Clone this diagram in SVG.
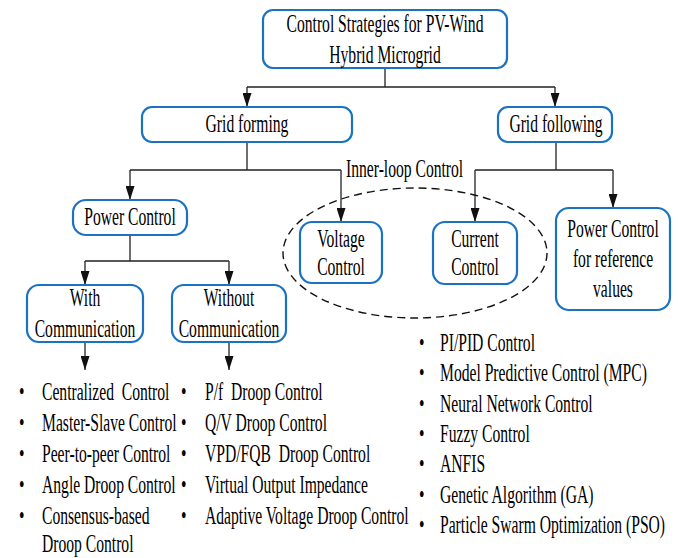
<svg xmlns="http://www.w3.org/2000/svg" width="678" height="558" viewBox="0 0 678 558">
<style>
.box{fill:#fff;stroke:#1a72c0;stroke-width:2.2}
.c{fill:none;stroke:#222;stroke-width:1.3}
.a{fill:none;stroke:#222;stroke-width:1.3;marker-end:url(#ah)}
.t text{font-size:25px;fill:#000;white-space:pre}
.m{text-anchor:middle}
</style>
<defs>
<marker id="ah" markerUnits="userSpaceOnUse" markerWidth="14" markerHeight="9" refX="14" refY="4.5" orient="auto" viewBox="0 0 14 9">
<path d="M0,0 L14,4.5 L0,9 z" fill="#111"/>
</marker>
</defs>
<rect width="678" height="558" fill="#fff"/>

<g id="connectors">
<path class="c" d="M385,68 V87 M247,87 H555"/>
<path class="a" d="M247,87 V107"/>
<path class="a" d="M555,87 V107"/>
<path class="c" d="M247,142 V170 M130,170 H341"/>
<path class="a" d="M130,170 V200"/>
<path class="a" d="M341,170 V222"/>
<path class="c" d="M556,142 V170 M475,170 H613"/>
<path class="a" d="M475,170 V222"/>
<path class="a" d="M613,170 V208"/>
<path class="c" d="M130,235 V261 M85,261 H229"/>
<path class="a" d="M85,261 V285"/>
<path class="a" d="M229,261 V285"/>
<path class="a" d="M85,342 V370"/>
<path class="a" d="M229,342 V370"/>
</g>

<g class="t" font-family="'Liberation Serif', 'DejaVu Serif', serif">
<g id="inner-loop">
<ellipse cx="415" cy="253" rx="132" ry="65" fill="none" stroke="#111" stroke-width="1.4" stroke-dasharray="8,5"/>
<text transform="translate(346,177) scale(0.625,1)">Inner-loop Control</text>
</g>

<g id="root">
<rect class="box" x="263" y="10" width="244" height="58" rx="10"/>
<text class="m" transform="translate(385,32) scale(0.625,1)">Control Strategies for PV-Wind</text>
<text class="m" transform="translate(385,63) scale(0.625,1)">Hybrid Microgrid</text>
</g>

<g id="grid-forming">
<rect class="box" x="142" y="107" width="210" height="35" rx="10"/>
<text class="m" transform="translate(247,132) scale(0.625,1)">Grid forming</text>
</g>

<g id="grid-following">
<rect class="box" x="498" y="107" width="114" height="35" rx="10"/>
<text class="m" transform="translate(556,132) scale(0.625,1)">Grid following</text>
</g>

<g id="power-control">
<rect class="box" x="73" y="200" width="114" height="35" rx="13"/>
<text class="m" transform="translate(130,225) scale(0.625,1)">Power Control</text>
</g>

<g id="with-comm">
<rect class="box" x="27" y="285" width="116" height="57" rx="12"/>
<text class="m" transform="translate(85,306) scale(0.625,1)">With</text>
<text class="m" transform="translate(85,337) scale(0.625,1)">Communication</text>
</g>

<g id="without-comm">
<rect class="box" x="172" y="285" width="114" height="57" rx="12"/>
<text class="m" transform="translate(229,306) scale(0.625,1)">Without</text>
<text class="m" transform="translate(229,337) scale(0.625,1)">Communication</text>
</g>

<g id="voltage-control">
<rect class="box" x="300" y="222" width="82" height="61" rx="12"/>
<text class="m" transform="translate(341,247) scale(0.625,1)">Voltage</text>
<text class="m" transform="translate(341,275) scale(0.625,1)">Control</text>
</g>

<g id="current-control">
<rect class="box" x="433" y="222" width="84" height="62" rx="12"/>
<text class="m" transform="translate(475,247) scale(0.625,1)">Current</text>
<text class="m" transform="translate(475,275) scale(0.625,1)">Control</text>
</g>

<g id="power-ref">
<rect class="box" x="556" y="208" width="114" height="102" rx="13"/>
<text class="m" transform="translate(613,237) scale(0.625,1)">Power Control</text>
<text class="m" transform="translate(613,267) scale(0.625,1)">for reference</text>
<text class="m" transform="translate(613,297) scale(0.625,1)">values</text>
</g>

<g id="list-with">
<text transform="translate(19,400) scale(0.625,1)">•</text><text transform="translate(42,400) scale(0.625,1)">Centralized  Control</text>
<text transform="translate(19,431) scale(0.625,1)">•</text><text transform="translate(42,431) scale(0.625,1)">Master-Slave Control</text>
<text transform="translate(19,462) scale(0.625,1)">•</text><text transform="translate(42,462) scale(0.625,1)">Peer-to-peer Control</text>
<text transform="translate(19,493) scale(0.625,1)">•</text><text transform="translate(42,493) scale(0.625,1)">Angle Droop Control</text>
<text transform="translate(19,524) scale(0.625,1)">•</text><text transform="translate(42,524) scale(0.625,1)">Consensus-based</text>
<text transform="translate(42,552) scale(0.625,1)">Droop Control</text>
</g>

<g id="list-without">
<text transform="translate(181,400) scale(0.625,1)">•</text><text transform="translate(205,400) scale(0.625,1)">P/f  Droop Control</text>
<text transform="translate(181,431) scale(0.625,1)">•</text><text transform="translate(205,431) scale(0.625,1)">Q/V Droop Control</text>
<text transform="translate(181,462) scale(0.625,1)">•</text><text transform="translate(205,462) scale(0.625,1)">VPD/FQB  Droop Control</text>
<text transform="translate(181,493) scale(0.625,1)">•</text><text transform="translate(205,493) scale(0.625,1)">Virtual Output Impedance</text>
<text transform="translate(181,524) scale(0.625,1)">•</text><text transform="translate(205,524) scale(0.625,1)">Adaptive Voltage Droop Control</text>
</g>

<g id="list-inner">
<text transform="translate(419,351) scale(0.625,1)">•</text><text transform="translate(440,351) scale(0.625,1)">PI/PID Control</text>
<text transform="translate(419,381) scale(0.625,1)">•</text><text transform="translate(440,381) scale(0.625,1)">Model Predictive Control (MPC)</text>
<text transform="translate(419,412) scale(0.625,1)">•</text><text transform="translate(440,412) scale(0.625,1)">Neural Network Control</text>
<text transform="translate(419,442) scale(0.625,1)">•</text><text transform="translate(440,442) scale(0.625,1)">Fuzzy Control</text>
<text transform="translate(419,472) scale(0.625,1)">•</text><text transform="translate(440,472) scale(0.625,1)">ANFIS</text>
<text transform="translate(419,503) scale(0.625,1)">•</text><text transform="translate(440,503) scale(0.625,1)">Genetic Algorithm (GA)</text>
<text transform="translate(419,533) scale(0.625,1)">•</text><text transform="translate(440,533) scale(0.625,1)">Particle Swarm Optimization (PSO)</text>
</g>
</g>
</svg>
